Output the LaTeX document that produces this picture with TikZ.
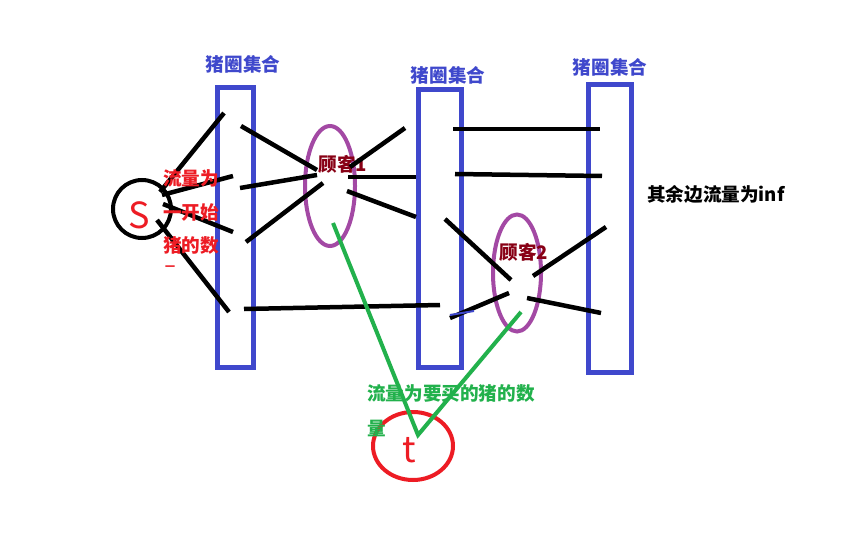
\documentclass[tikz,border=0pt]{standalone}
\usepackage{fontspec}
\setmainfont{Noto Sans CJK SC}
\usetikzlibrary{shapes.geometric}
\definecolor{pblue}{RGB}{63,72,204}
\definecolor{ppurple}{RGB}{163,73,164}
\definecolor{pgreen}{RGB}{34,177,76}
\definecolor{pred}{RGB}{237,28,36}
\definecolor{pdark}{RGB}{136,0,21}
\tikzset{
  edge/.style={line width=4.5pt,black},
  gedge/.style={line width=4pt,pgreen},
  pen/.style={draw=pblue,line width=5pt},
  cust/.style={ellipse,draw=ppurple,line width=4pt,inner sep=0pt},
  lbl/.style={font=\fontsize{18.6}{18.6}\selectfont\bfseries,inner sep=0pt},
  rlbl/.style={lbl,text=pred,anchor=west},
}
\begin{document}
\begin{tikzpicture}[x=1pt,y=-1pt]
\useasboundingbox[fill=white] (0,0) rectangle (864,540);
% pens
\draw[pen] (217,88) rectangle (253,367);
\draw[pen] (418,90) rectangle (461,367);
\draw[pen] (588,85) rectangle (631,372);
\node[lbl,text=pblue] (p1) at (243,64) {猪圈集合};
\node[lbl,text=pblue] (p2) at (448,75) {猪圈集合};
\node[lbl,text=pblue] (p3) at (610,67) {猪圈集合};
% source and sink
\node[circle,draw=black,line width=4pt,minimum size=58pt,inner sep=0pt] (s) at (142,209) {};
\node[text=pred,font=\fontsize{36}{36}\selectfont,inner sep=0pt] (sl) at (139,215) {S};
\node[ellipse,draw=pred,line width=4pt,minimum width=80pt,minimum height=68pt,inner sep=0pt] (t) at (413,446) {};
\node[text=pred,font=\fontsize{36}{36}\selectfont,inner sep=0pt] (tl) at (409,450) {t};
% customers
\node[cust,minimum width=50pt,minimum height=120pt] (c1) at (330,186) {};
\node[cust,minimum width=48pt,minimum height=117pt] (c2) at (517,273) {};
\node[lbl,text=pdark] (c1l) at (343,164) {顾客1};
\node[lbl,text=pdark] (c2l) at (524,252) {顾客2};
% endpoints
\coordinate (a1) at (160,192); \coordinate (b1) at (224,113);
\coordinate (a2) at (162,195); \coordinate (b2) at (233,176);
\coordinate (a3) at (163,204); \coordinate (b3) at (233,232);
\coordinate (a4) at (157,220); \coordinate (b4) at (229,312);
\coordinate (d1) at (241,126); \coordinate (e1) at (317,170);
\coordinate (d2) at (240,188); \coordinate (e2) at (317,175);
\coordinate (d3) at (246,242); \coordinate (e3) at (323,183);
\coordinate (d4) at (244,309); \coordinate (e4) at (440,305);
\coordinate (f1) at (350,167); \coordinate (g1) at (405,128);
\coordinate (f2) at (348,177); \coordinate (g2) at (416,177);
\coordinate (f3) at (347,191); \coordinate (g3) at (416,217);
\coordinate (h1) at (453,129); \coordinate (k1) at (600,129);
\coordinate (h2) at (455,174); \coordinate (k2) at (602,176);
\coordinate (m1) at (445,219); \coordinate (n1) at (511,280);
\coordinate (m2) at (450,318); \coordinate (n2) at (509,293);
\coordinate (q1) at (533,276); \coordinate (r1) at (606,227);
\coordinate (q2) at (527,298); \coordinate (r2) at (601,313);
\coordinate (gs1) at (333,223); \coordinate (gs2) at (521,312);
\coordinate (gv) at (418,435);
% black edges
\foreach \u/\v in {a1/b1,a2/b2,a3/b3,a4/b4,d1/e1,d2/e2,d3/e3,d4/e4,f1/g1,f2/g2,f3/g3,h1/k1,h2/k2,m1/n1,m2/n2,q1/r1,q2/r2}
  \draw[edge] (\u) -- (\v);
\coordinate (bm) at (474,308);
\draw[line width=2pt,pblue] (m2) ++(0,-3) -- ([yshift=-3pt]bm);
% green edges
\draw[gedge] (gs1) -- (gv) -- (gs2);
% texts
\node[rlbl] (r1t) at (163,178) {流量为};
\node[rlbl] (r2t) at (163,212) {一开始};
\node[rlbl] (r3t) at (163,245) {猪的数};
\node[rlbl,font=\fontsize{10}{10}\selectfont\bfseries] (r4t) at (165,268) {一};
\node[lbl,text=pgreen,anchor=west] (gt1) at (367,393) {流量为要买的猪的数};
\node[lbl,text=pgreen,anchor=west] (gt2) at (367,428) {量};
\node[lbl,text=black,anchor=west] (inf) at (647,194) {其余边流量为inf};
\end{tikzpicture}
\end{document}
